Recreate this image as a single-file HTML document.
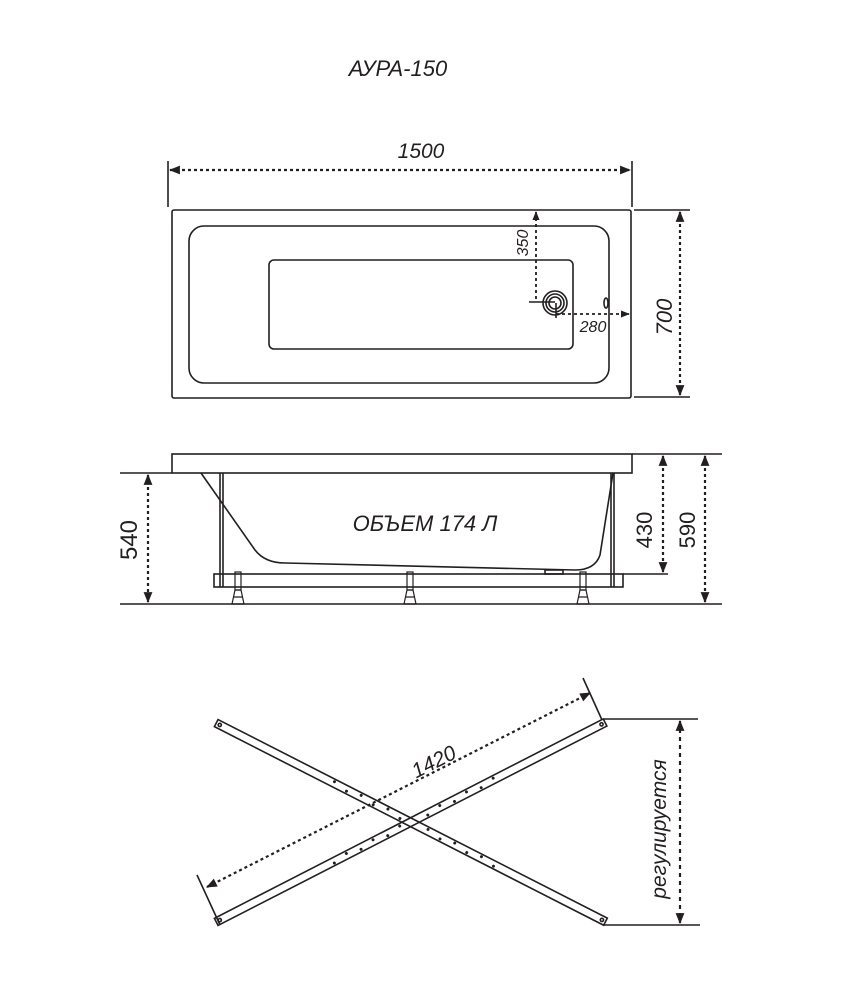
<!DOCTYPE html>
<html><head><meta charset="utf-8"><style>
html,body{margin:0;padding:0;background:#fff;}
svg{display:block;}
text{font-family:"Liberation Sans","DejaVu Sans",sans-serif;fill:#231f20;}
</style></head><body>
<svg width="850" height="992" viewBox="0 0 850 992" xmlns="http://www.w3.org/2000/svg">
<defs>
<marker id="ar" viewBox="0 0 10 10" refX="9" refY="5" markerWidth="5" markerHeight="5" orient="auto-start-reverse"><path d="M0,1 L10,5 L0,9 z" fill="#231f20"/></marker>
</defs>
<g stroke="#231f20" fill="none" stroke-width="1.6">
<text x="398" y="76" font-size="22" font-style="italic" text-anchor="middle" stroke="none">АУРА-150</text>

<!-- TOP VIEW -->
<text x="421" y="158" font-size="21" font-style="italic" text-anchor="middle" stroke="none">1500</text>
<line x1="168" y1="161" x2="168" y2="207"/>
<line x1="632" y1="161" x2="632" y2="207"/>
<line x1="170" y1="170" x2="630" y2="170" stroke-dasharray="3,3" stroke-width="2.2" marker-start="url(#ar)" marker-end="url(#ar)"/>
<rect x="172" y="210" width="459" height="188" rx="2"/>
<rect x="189" y="226" width="420" height="157" rx="15"/>
<rect x="269" y="260" width="304" height="89" rx="5"/>
<circle cx="555" cy="303" r="12"/>
<circle cx="555" cy="303" r="9"/>
<circle cx="555" cy="303" r="6"/>
<ellipse cx="606" cy="303" rx="2" ry="5"/>
<line x1="536" y1="212" x2="536" y2="301" stroke-dasharray="3,3" stroke-width="1.8" marker-start="url(#ar)"/>
<line x1="529" y1="302" x2="555" y2="302"/>
<line x1="556" y1="303" x2="556" y2="318"/>
<line x1="556" y1="314" x2="629" y2="314" stroke-dasharray="3,3" stroke-width="1.8" marker-end="url(#ar)"/>
<text transform="translate(528,243) rotate(-90)" font-size="16" font-style="italic" text-anchor="middle" stroke="none">350</text>
<text x="593" y="332" font-size="16" font-style="italic" text-anchor="middle" stroke="none">280</text>
<line x1="634" y1="210" x2="690" y2="210"/>
<line x1="634" y1="397" x2="690" y2="397"/>
<line x1="680" y1="212" x2="680" y2="395" stroke-dasharray="3,3" stroke-width="2.2" marker-start="url(#ar)" marker-end="url(#ar)"/>
<text transform="translate(672,317) rotate(-90)" font-size="22" font-style="italic" text-anchor="middle" stroke="none">700</text>

<!-- SIDE VIEW -->
<rect x="172" y="454" width="460" height="19"/>
<path d="M201,473 L255,550 Q265,563 285,563 L575,570 Q595,570 600,555 L613,473"/>
<rect x="214" y="574" width="409" height="13"/>
<line x1="220" y1="473" x2="220" y2="587"/>
<line x1="223" y1="473" x2="223" y2="587"/>
<line x1="611" y1="473" x2="611" y2="587"/>
<line x1="614" y1="473" x2="614" y2="587"/>
<rect x="545" y="570" width="18" height="4"/>
<g stroke-width="1.2">
<rect x="235" y="572" width="6" height="18"/>
<path d="M232,604 L235,590 L241,590 L244,604 Z M234,597 L242,597"/>
<rect x="407" y="572" width="6" height="18"/>
<path d="M404,604 L407,590 L413,590 L416,604 Z M406,597 L414,597"/>
<rect x="580" y="572" width="6" height="18"/>
<path d="M577,604 L580,590 L586,590 L589,604 Z M579,597 L587,597"/>
</g>
<line x1="120" y1="604" x2="722" y2="604"/>
<line x1="120" y1="473" x2="172" y2="473"/>
<line x1="148" y1="475" x2="148" y2="602" stroke-dasharray="3,3" stroke-width="2.2" marker-start="url(#ar)" marker-end="url(#ar)"/>
<text transform="translate(137,540) rotate(-90)" font-size="24" text-anchor="middle" stroke="none">540</text>
<line x1="632" y1="454" x2="722" y2="454"/>
<line x1="623" y1="574" x2="668" y2="574"/>
<line x1="663" y1="456" x2="663" y2="572" stroke-dasharray="3,3" stroke-width="2.2" marker-start="url(#ar)" marker-end="url(#ar)"/>
<line x1="705" y1="456" x2="705" y2="602" stroke-dasharray="3,3" stroke-width="2.2" marker-start="url(#ar)" marker-end="url(#ar)"/>
<text transform="translate(652,530) rotate(-90)" font-size="22" text-anchor="middle" stroke="none">430</text>
<text transform="translate(695,530) rotate(-90)" font-size="22" text-anchor="middle" stroke="none">590</text>
<text x="425" y="531" font-size="22" font-style="italic" text-anchor="middle" stroke="none">ОБЪЕМ 174 Л</text>

<!-- CROSS FRAME -->
<g transform="translate(218,724) rotate(27.03)">
<rect x="-2" y="-4" width="437" height="8"/>
<circle cx="2" cy="0" r="1.6"/><circle cx="431" cy="0" r="1.6"/>
</g>
<g transform="translate(218,921) rotate(-27.15)">
<rect x="-2" y="-4" width="437" height="8"/>
<circle cx="2" cy="0" r="1.6"/><circle cx="431" cy="0" r="1.6"/>
</g>
<g fill="#231f20" stroke="none">
<g transform="translate(218,724) rotate(27.03)">
<circle cx="130" cy="-1.5" r="1.5"/><circle cx="145" cy="1.5" r="1.5"/><circle cx="160" cy="-1.5" r="1.5"/><circle cx="175" cy="1.5" r="1.5"/><circle cx="190" cy="-1.5" r="1.5"/><circle cx="205" cy="1.5" r="1.5"/><circle cx="235" cy="-1.5" r="1.5"/><circle cx="250" cy="1.5" r="1.5"/><circle cx="265" cy="-1.5" r="1.5"/><circle cx="280" cy="1.5" r="1.5"/><circle cx="295" cy="-1.5" r="1.5"/><circle cx="310" cy="1.5" r="1.5"/>
</g>
<g transform="translate(218,921) rotate(-27.15)">
<circle cx="130" cy="1.5" r="1.5"/><circle cx="145" cy="-1.5" r="1.5"/><circle cx="160" cy="1.5" r="1.5"/><circle cx="175" cy="-1.5" r="1.5"/><circle cx="190" cy="1.5" r="1.5"/><circle cx="205" cy="-1.5" r="1.5"/><circle cx="235" cy="1.5" r="1.5"/><circle cx="250" cy="-1.5" r="1.5"/><circle cx="265" cy="1.5" r="1.5"/><circle cx="280" cy="-1.5" r="1.5"/><circle cx="295" cy="1.5" r="1.5"/><circle cx="310" cy="-1.5" r="1.5"/>
</g>
</g>
<line x1="197" y1="875" x2="220" y2="925"/>
<line x1="583" y1="678" x2="602" y2="720"/>
<line x1="207" y1="887" x2="590" y2="693" stroke-dasharray="3,3" stroke-width="2.2" marker-start="url(#ar)" marker-end="url(#ar)"/>
<text transform="translate(437,768) rotate(-27)" font-size="21" font-style="italic" text-anchor="middle" stroke="none">1420</text>
<line x1="604" y1="719" x2="698" y2="719"/>
<line x1="604" y1="925" x2="700" y2="925"/>
<line x1="680" y1="721" x2="680" y2="923" stroke-dasharray="4,4" stroke-width="2.2" marker-start="url(#ar)" marker-end="url(#ar)"/>
<text transform="translate(666,829) rotate(-90)" font-size="21" font-style="italic" text-anchor="middle" stroke="none">регулируется</text>
</g>
</svg>
</body></html>
